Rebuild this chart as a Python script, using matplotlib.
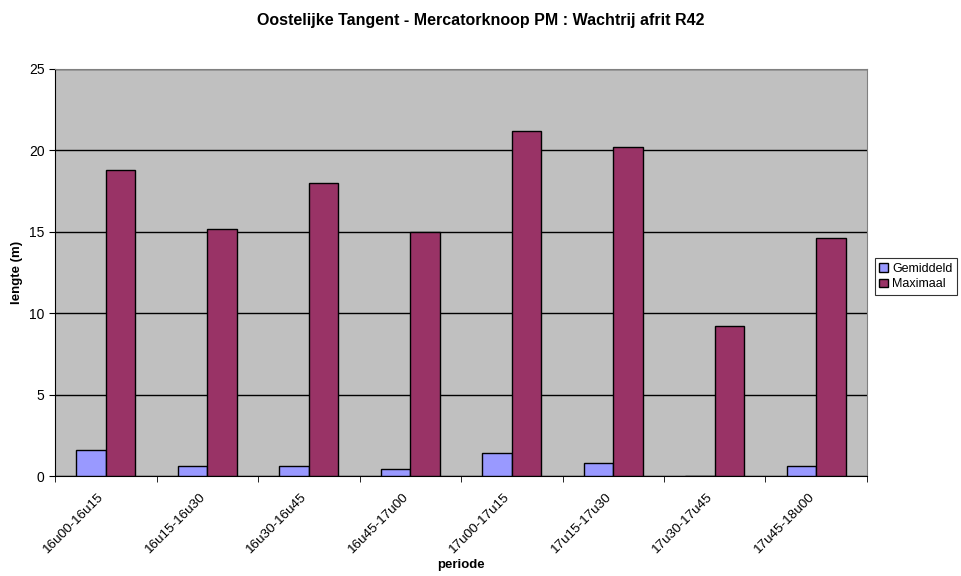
import numpy as np
import matplotlib.pyplot as plt
import matplotlib.transforms as mtransforms

plt.rcParams['font.family'] = ['Liberation Sans', 'DejaVu Sans']

periodes = ["16u00-16u15", "16u15-16u30", "16u30-16u45", "16u45-17u00",
            "17u00-17u15", "17u15-17u30", "17u30-17u45", "17u45-18u00"]
gemiddeld = [1.6, 0.6, 0.6, 0.4, 1.4, 0.8, 0.0, 0.6]
maximaal = [18.8, 15.2, 18.0, 15.0, 21.2, 20.2, 9.2, 14.6]

fig = plt.figure(figsize=(9.61, 5.76), dpi=100)
ax = fig.add_axes([55/961, 1-476/576, (867-55)/961, (476-69)/576])

x = np.arange(len(periodes))
w = 0.29
ax.bar(x - w/2, gemiddeld, w, color="#9999FF", edgecolor="black", linewidth=1, label="Gemiddeld", zorder=3)
ax.bar(x + w/2, maximaal, w, color="#993366", edgecolor="black", linewidth=1, label="Maximaal", zorder=3)

ax.set_facecolor("#C0C0C0")
ax.set_xlim(-0.5, len(periodes) - 0.5)
ax.set_ylim(0, 25)
ax.set_yticks([0, 5, 10, 15, 20, 25])
ax.yaxis.grid(True, color="black", linewidth=1, zorder=1)
ax.set_axisbelow(True)

ax.set_xticks(x)
ax.set_xticklabels(periodes, rotation=45, ha="right", rotation_mode="anchor", fontsize=9.7)
ax.set_xticks(np.arange(-0.5, len(periodes)), minor=True)
ax.tick_params(axis="x", which="major", length=0, pad=11)
ax.tick_params(axis="x", which="minor", length=4, direction="out")
ax.tick_params(axis="y", labelsize=10, length=4)
# schuif de labels iets naar links
shift = mtransforms.ScaledTranslation(-6/72, 0, fig.dpi_scale_trans)
for lab in ax.get_xticklabels():
    lab.set_transform(lab.get_transform() + shift)

for s in ["top", "right"]:
    ax.spines[s].set_color("#808080")
ax.spines["left"].set_color("black")
ax.spines["bottom"].set_color("black")

ax.set_xlabel("periode", fontsize=9.5, fontweight="bold", labelpad=2)
ax.set_ylabel("lengte (m)", fontsize=9.5, fontweight="bold", labelpad=4)
fig.suptitle("Oostelijke Tangent - Mercatorknoop PM : Wachtrij afrit R42",
             fontsize=11.5, fontweight="bold", y=1-21/576, va="center")

leg = ax.legend(loc="center left", bbox_to_anchor=(1.01, 0.49), fontsize=9,
                frameon=True, fancybox=False, edgecolor="black",
                handlelength=0.7, handleheight=0.7, handletextpad=0.3,
                borderpad=0.35, labelspacing=0.3, borderaxespad=0)
leg.get_frame().set_linewidth(0.8)

fig.savefig("out.png", dpi=100)
